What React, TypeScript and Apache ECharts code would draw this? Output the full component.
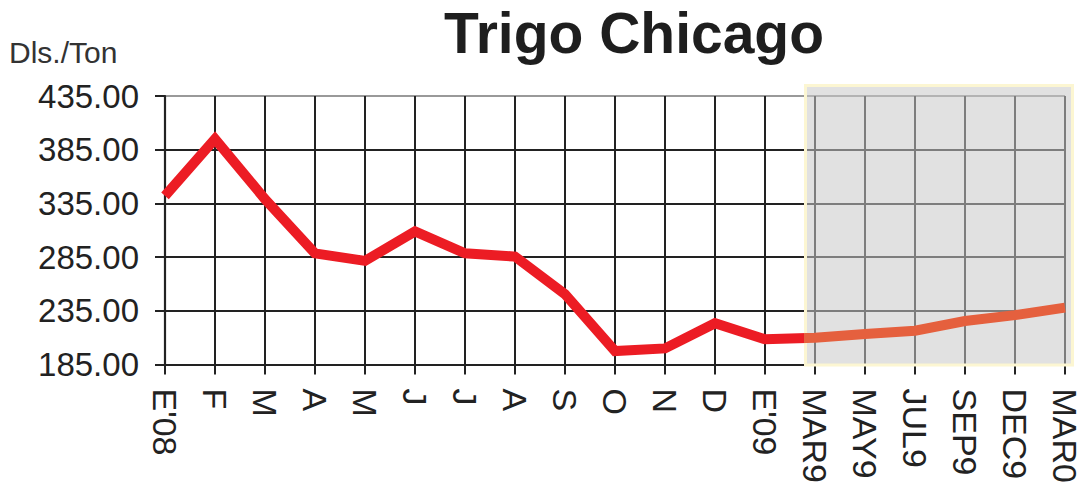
import React, { useEffect, useRef } from 'react';
import * as echarts from 'echarts';

const chartTitle = 'Trigo Chicago';
const unitLabel = 'Dls./Ton';
const categories = ["E'08", 'F', 'M', 'A', 'M', 'J', 'J', 'A', 'S', 'O', 'N', 'D', "E'09", 'MAR9', 'MAY9', 'JUL9', 'SEP9', 'DEC9', 'MAR0'];
const prices = [342, 395, 339, 288.5, 281.5, 309, 288.5, 285.5, 250.5, 197.5, 200, 223.5, 208.5, 210, 213.5, 216.5, 225.5, 231, 238];
const yMin = 185;
const yMax = 435;
const yStep = 50;
const forecastStartIndex = 12;
const forecastStartFraction = 0.78;

const FONT = 'Liberation Sans, Arial, sans-serif';

export default function App() {
  const ref = useRef<HTMLDivElement>(null);
  useEffect(() => {
    const chart = echarts.init(ref.current!, null, { renderer: 'svg' });
    chart.setOption({
      animation: false,
      backgroundColor: '#ffffff',
      grid: { left: 165, right: 16, top: 96, bottom: 120, containLabel: false },
      xAxis: {
        type: 'category',
        data: categories,
        boundaryGap: false,
        axisLine: { lineStyle: { color: '#222', width: 2.2 } },
        axisTick: { show: true, inside: false, length: 10, lineStyle: { color: '#222', width: 2 }, alignWithLabel: true },
        axisLabel: { rotate: -90, margin: 24, fontSize: 34, color: '#222', fontFamily: FONT, interval: 0 },
        splitLine: { show: true, lineStyle: { color: '#222', width: 2 } },
      },
      yAxis: {
        type: 'value',
        min: yMin,
        max: yMax,
        interval: yStep,
        axisLine: { show: true, lineStyle: { color: '#222', width: 2.2 } },
        axisTick: { show: true, length: 10, lineStyle: { color: '#222', width: 2 } },
        axisLabel: { margin: 26, fontSize: 33, color: '#222', fontFamily: FONT, formatter: (v: number) => v.toFixed(2) },
        splitLine: { show: true, lineStyle: { color: ['#222', '#222', '#222', '#222', '#222', '#999'], width: 2 } },
      },
      series: [
        {
          type: 'line',
          data: prices,
          showSymbol: false,
          symbol: 'none',
          lineStyle: { color: '#ec1c24', width: 10, join: 'miter' },
          z: 3,
        },
      ],
    });

    const x0 = chart.convertToPixel({ xAxisIndex: 0 }, forecastStartIndex) as number;
    const x1 = chart.convertToPixel({ xAxisIndex: 0 }, forecastStartIndex + 1) as number;
    const xLast = chart.convertToPixel({ xAxisIndex: 0 }, categories.length - 1) as number;
    const yTop = chart.convertToPixel({ yAxisIndex: 0 }, yMax) as number;
    const yBot = chart.convertToPixel({ yAxisIndex: 0 }, yMin) as number;
    const boxLeft = x0 + (x1 - x0) * forecastStartFraction;
    const boxRight = xLast + 9;
    const boxTop = yTop - 12;
    const boxBottom = yBot + 2;
    const W = 1082;
    const stop = boxLeft / W;

    chart.setOption({
      graphic: [
        {
          type: 'rect',
          z: 1,
          shape: { x: boxLeft + 1.5, y: boxTop + 1.5, width: boxRight - boxLeft - 3, height: boxBottom - boxTop - 3 },
          style: { fill: 'rgba(200,200,200,0.55)', stroke: '#fcf6d2', lineWidth: 3 },
        },
        {
          type: 'text',
          x: 634,
          y: 33,
          z: 5,
          style: { text: chartTitle, fontSize: 57, fontWeight: 'bold', fontFamily: FONT, fill: '#1e1e1e', textAlign: 'center', textVerticalAlign: 'middle' },
        },
        {
          type: 'text',
          x: 9,
          y: 52,
          z: 5,
          style: { text: unitLabel, fontSize: 30, fontFamily: FONT, fill: '#333', textAlign: 'left', textVerticalAlign: 'middle' },
        },
      ],
      series: [
        {
          lineStyle: {
            color: new echarts.graphic.LinearGradient(0, 0, W, 0, [
              { offset: 0, color: '#ec1c24' },
              { offset: stop, color: '#ec1c24' },
              { offset: stop, color: '#e5603e' },
              { offset: 1, color: '#e5603e' },
            ], true),
          },
        },
      ],
    });
    return () => chart.dispose();
  }, []);
  return <div ref={ref} style={{ position: 'fixed', left: 0, top: 0, width: 1082, height: 486 }} />;
}
